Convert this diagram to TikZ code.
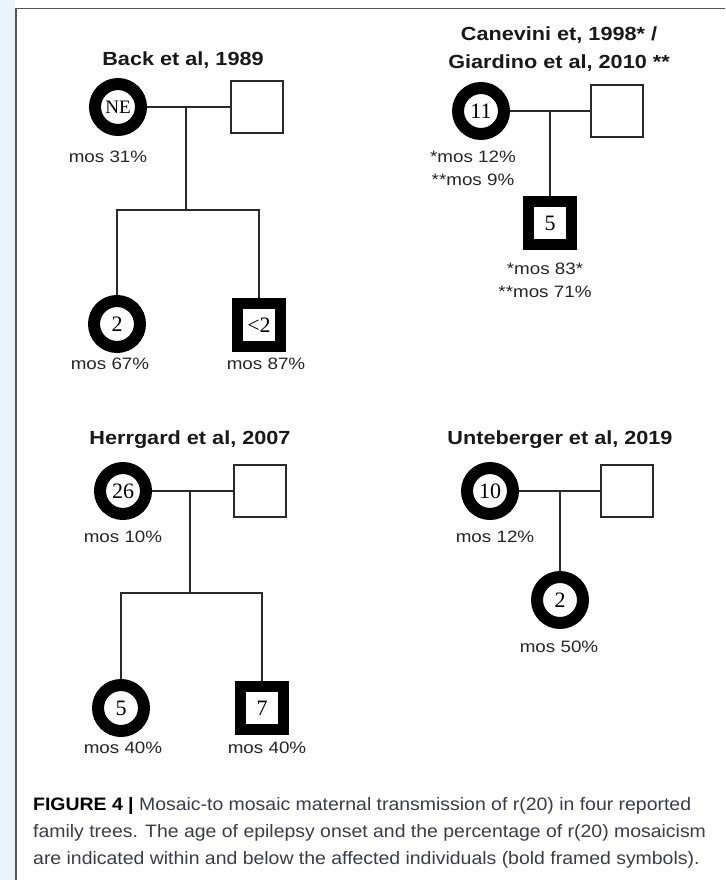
\documentclass[tikz,border=0pt]{standalone}
\usepackage{fontspec}
\setmainfont{Liberation Sans}
\newfontfamily\agefont{Liberation Serif}
\newfontfamily\labfont{Liberation Sans}[FakeStretch=1.14]
\newfontfamily\capfont{Liberation Sans}[FakeStretch=1.08]
\usetikzlibrary{positioning}
\definecolor{framegray}{HTML}{555555}
\definecolor{linegray}{HTML}{2A2A2A}
\definecolor{stripblue}{HTML}{EAF4FB}
\definecolor{captext}{HTML}{3C3C48}

\begin{document}
\begin{tikzpicture}[x=1pt,y=-1pt,
    pedtitle/.style={font=\labfont\bfseries\fontsize{19}{28}\selectfont, text=black!90, align=center, inner sep=0pt},
    mos/.style={font=\labfont\fontsize{16.5}{23}\selectfont, text=black!85, align=center, inner sep=0pt},
    female/.style={circle, draw=black, line width=12pt, minimum size=46pt, inner sep=0pt, font=\agefont\fontsize{22}{22}\selectfont},
    male/.style={rectangle, draw=black, line width=11pt, minimum size=43pt, inner sep=0pt, font=\agefont\fontsize{22}{22}\selectfont},
    healthy/.style={rectangle, draw=linegray, line width=1.5pt, minimum size=52pt, inner sep=0pt},
    rel/.style={draw=linegray, line width=1.4pt},
    captionline/.style={anchor=west, inner sep=0pt, font=\capfont\fontsize{18}{20}\selectfont, text=captext}]

    % page, side strip and frame
    \useasboundingbox (0,0) rectangle (725,880);
    \fill[white] (0,0) rectangle (725,880);
    \fill[stripblue] (0,0) rectangle (15,880);
    \draw[framegray, line width=1.5pt] (15.75,880) -- (15.75,8.75) -- (725,8.75);

    % Back et al, 1989
    \node[pedtitle] (backtitle) at (183,60) {Back et al, 1989};
    \node[female] (backmom) at (118,107) {\fontsize{19}{19}\selectfont NE};
    \node[healthy] (backdad) at (257,107) {};
    \node[female] (backkid1) at (117,324) {2};
    \node[male] (backkid2) at (259,325) {<2};
    \coordinate (backmid) at (186,107);
    \coordinate (backsib) at (186,210);
    \draw[rel] (backmom.east) -- (backdad.west);
    \draw[rel] (backmid) -- (backsib);
    \draw[rel] (backkid1.north) |- (backsib) -| (backkid2.north);
    \node[mos] (backmos0) at (108,157) {mos 31\%};
    \node[mos] (backmos1) at (110,364) {mos 67\%};
    \node[mos] (backmos2) at (266,364) {mos 87\%};

    % Canevini et al, 1998 / Giardino et al, 2010
    \node[pedtitle] (canevtitle) at (559,49) {Canevini et, 1998* /\\Giardino et al, 2010 **};
    \node[female] (canevmom) at (481,111) {11};
    \node[healthy] (canevdad) at (617,111) {};
    \node[male] (canevkid) at (550,223) {5};
    \coordinate (canevmid) at (550,111);
    \draw[rel] (canevmom.east) -- (canevdad.west);
    \draw[rel] (canevmid) -- (canevkid.north);
    \node[mos] (canevmos0) at (473,168) {*mos 12\%\\**mos 9\%};
    \node[mos] (canevmos1) at (545,280) {*mos 83*\\**mos 71\%};

    % Herrgard et al, 2007
    \node[pedtitle] (herrtitle) at (190,440) {Herrgard et al, 2007};
    \node[female] (herrmom) at (123,491) {26};
    \node[healthy] (herrdad) at (260,491) {};
    \node[female] (herrkid1) at (121,708) {5};
    \node[male] (herrkid2) at (262,708) {7};
    \coordinate (herrmid) at (190,491);
    \coordinate (herrsib) at (190,593);
    \draw[rel] (herrmom.east) -- (herrdad.west);
    \draw[rel] (herrmid) -- (herrsib);
    \draw[rel] (herrkid1.north) |- (herrsib) -| (herrkid2.north);
    \node[mos] (herrmos0) at (123,537) {mos 10\%};
    \node[mos] (herrmos1) at (123,748) {mos 40\%};
    \node[mos] (herrmos2) at (267,748) {mos 40\%};

    % Unteberger et al, 2019
    \node[pedtitle] (untetitle) at (560,440) {Unteberger et al, 2019};
    \node[female] (untemom) at (490,491) {10};
    \node[healthy] (untedad) at (627,491) {};
    \node[female] (untekid) at (560,600) {2};
    \coordinate (untemid) at (560,491);
    \draw[rel] (untemom.east) -- (untedad.west);
    \draw[rel] (untemid) -- (untekid.north);
    \node[mos] (untemos0) at (495,537) {mos 12\%};
    \node[mos] (untemos1) at (559,647) {mos 50\%};

    % caption
    \node[captionline] (cap1) at (33,806) {\textbf{\color{black}FIGURE 4 |} Mosaic-to mosaic maternal transmission of r(20) in four reported};
    \node[captionline] (cap2) at (33,833) {family trees. The age of epilepsy onset and the percentage of r(20) mosaicism};
    \node[captionline] (cap3) at (33,860) {are indicated within and below the affected individuals (bold framed symbols).};

\end{tikzpicture}
\end{document}
